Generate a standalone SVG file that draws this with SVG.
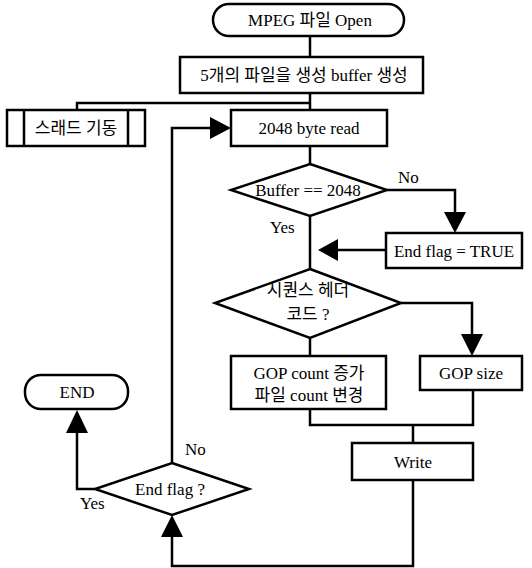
<svg xmlns="http://www.w3.org/2000/svg" width="532" height="568" viewBox="0 0 532 568">
  <defs>
    <style>
      .shape { fill: #fff; stroke: #000; stroke-width: 2.5; }
      .line { fill: none; stroke: #000; stroke-width: 2.5; }
      .head { fill: #000; stroke: none; }
      text { font-family: "Liberation Serif", "Noto Sans CJK KR", serif; font-size: 17px; fill: #000; }
      .c { text-anchor: middle; }
    </style>
  </defs>
  <rect width="532" height="568" fill="#fff"/>

  <!-- connectors -->
  <g id="connectors">
    <path class="line" d="M310 36 V57"/>
    <path class="line" d="M310 93 V110"/>
    <path class="line" d="M310 103 H77 V110"/>
    <path class="line" d="M310 146 V164"/>
    <path class="line" d="M387 190 H455 V214"/>
    <polygon class="head" points="444,212 466,212 455,233"/>
    <path class="line" d="M310 216 V269"/>
    <path class="line" d="M386 250 H336"/>
    <polygon class="head" points="338,239 338,261 318,250"/>
    <path class="line" d="M401 303 H472 V336"/>
    <polygon class="head" points="461,334 483,334 472,356"/>
    <path class="line" d="M310 338 V356"/>
    <path class="line" d="M310 409 V425 H473 V390"/>
    <path class="line" d="M413 425 V443"/>
    <path class="line" d="M413 480 V566 H172 V535"/>
    <polygon class="head" points="161,537 183,537 172,515"/>
    <path class="line" d="M172 463 V128 H212"/>
    <polygon class="head" points="210,117 210,139 231,128"/>
    <path class="line" d="M95 489 H77 V431"/>
    <polygon class="head" points="66,433 88,433 77,410"/>
  </g>

  <g id="start">
    <rect class="shape" x="213" y="4" width="191" height="32" rx="16"/>
    <text class="c" x="310" y="26">MPEG 파일 Open</text>
  </g>
  <g id="create-buffer">
    <rect class="shape" x="180" y="57" width="243" height="36"/>
    <text class="c" x="304" y="81">5개의 파일을 생성 buffer 생성</text>
  </g>
  <g id="thread-start">
    <rect class="shape" x="7" y="110" width="138" height="36"/>
    <path class="line" d="M24 110 V146 M128 110 V146"/>
    <text class="c" x="76" y="134">스래드 기동</text>
  </g>
  <g id="read">
    <rect class="shape" x="231" y="110" width="156" height="36"/>
    <text class="c" x="309" y="134">2048 byte read</text>
  </g>
  <g id="buffer-check">
    <polygon class="shape" points="310,164 387,190 310,216 231,190"/>
    <text class="c" x="308" y="196">Buffer == 2048</text>
    <text x="398" y="183">No</text>
    <text x="270" y="233">Yes</text>
  </g>
  <g id="end-flag-set">
    <rect class="shape" x="386" y="233" width="136" height="35"/>
    <text class="c" x="454" y="257">End flag = TRUE</text>
  </g>
  <g id="seq-header-check">
    <polygon class="shape" points="310,269 401,303 310,338 215,303"/>
    <text class="c" x="308" y="296">시퀀스 헤더</text>
    <text class="c" x="308" y="320">코드 ?</text>
  </g>
  <g id="gop-count">
    <rect class="shape" x="231" y="356" width="155" height="53"/>
    <text class="c" x="309" y="379">GOP count 증가</text>
    <text class="c" x="309" y="401">파일 count 변경</text>
  </g>
  <g id="gop-size">
    <rect class="shape" x="420" y="356" width="102" height="34"/>
    <text class="c" x="471" y="379">GOP size</text>
  </g>
  <g id="write">
    <rect class="shape" x="352" y="443" width="121" height="37"/>
    <text class="c" x="413" y="468">Write</text>
  </g>
  <g id="end-flag-check">
    <polygon class="shape" points="172,463 249,489 172,515 95,489"/>
    <text class="c" x="170" y="495">End flag ?</text>
    <text x="185" y="455">No</text>
    <text x="80" y="509">Yes</text>
  </g>
  <g id="end">
    <rect class="shape" x="25" y="375" width="103" height="34" rx="16"/>
    <text class="c" x="77" y="398">END</text>
  </g>
</svg>
